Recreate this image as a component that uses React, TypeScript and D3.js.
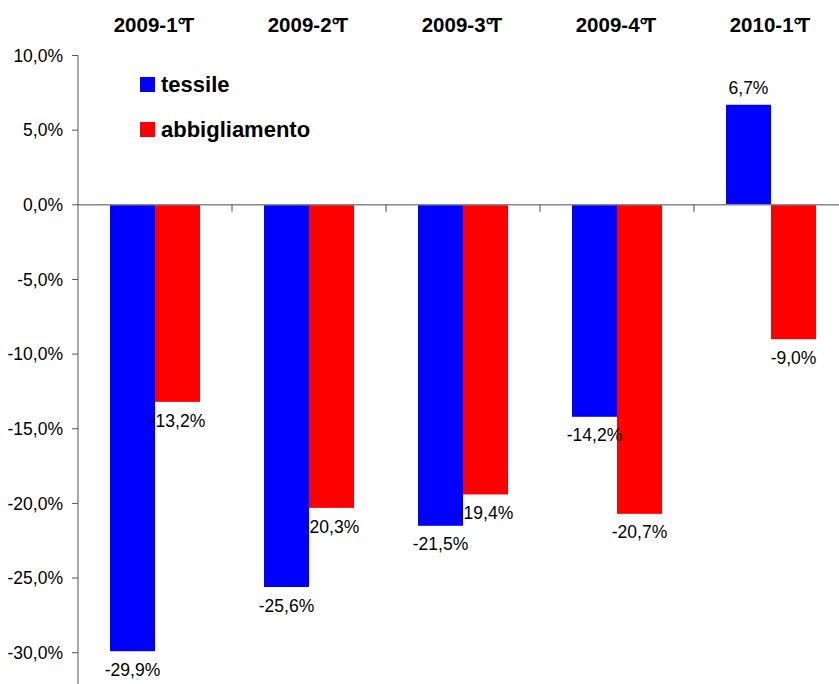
import React from "react";
import * as d3 from "d3";

const categories = ["2009-1°T", "2009-2°T", "2009-3°T", "2009-4°T", "2010-1°T"];
const seriesNames = ["tessile", "abbigliamento"];
const tessile = [-29.9, -25.6, -21.5, -14.2, 6.7];
const abbigliamento = [-13.2, -20.3, -19.4, -20.7, -9.0];
const seriesColors = ["#0000FF", "#FF0000"];
const yTicks = [10, 5, 0, -5, -10, -15, -20, -25, -30];

const W = 839;
const H = 684;

const fmt = (v: number) => v.toFixed(1).replace(".", ",") + "%";

export default function App() {
  const axisX = 78;
  const y = d3.scaleLinear().domain([-30, 10]).range([652.7, 55.5]);
  const x0 = d3
    .scaleBand<string>()
    .domain(categories)
    .range([axisX, axisX + 154 * categories.length])
    .paddingInner(0.4156)
    .paddingOuter(0.4156 / 2);
  const x1 = d3.scaleBand<string>().domain(seriesNames).range([0, x0.bandwidth()]);
  const series = [tessile, abbigliamento];
  const yBottom = H;
  const font = "'Liberation Sans', Arial, sans-serif";

  return (
    <svg
      width={W}
      height={H}
      style={{ position: "absolute", left: 0, top: 0, background: "#fff" }}
      fontFamily={font}
    >
      {/* bars */}
      {series.map((vals, si) =>
        vals.map((v, i) => {
          const bx = (x0(categories[i]) as number) + (x1(seriesNames[si]) as number);
          const y0 = y(0);
          const yv = y(v);
          return (
            <rect
              key={`b${si}-${i}`}
              x={bx}
              y={Math.min(y0, yv)}
              width={x1.bandwidth()}
              height={Math.abs(yv - y0)}
              fill={seriesColors[si]}
            />
          );
        })
      )}
      {/* zero line */}
      <line x1={axisX} x2={W} y1={y(0)} y2={y(0)} stroke="#888" strokeWidth={1.5} />
      {/* category ticks */}
      {categories.map((c, i) => {
        const tx = axisX + 154 * i;
        return i === 0 ? null : (
          <line key={`ct${i}`} x1={tx} x2={tx} y1={y(0)} y2={y(0) + 7} stroke="#444" strokeWidth={1} />
        );
      })}
      {/* y axis */}
      <line x1={axisX} x2={axisX} y1={y(10)} y2={yBottom} stroke="#555" strokeWidth={1} />
      {yTicks.map((t) => (
        <g key={`yt${t}`}>
          <line x1={axisX - 6} x2={axisX} y1={y(t)} y2={y(t)} stroke="#555" strokeWidth={1} />
          <text x={63} y={y(t)} dy="0.35em" textAnchor="end" fontSize={17.5} fill="#000">
            {fmt(t)}
          </text>
        </g>
      ))}
      {/* category labels at top */}
      {categories.map((c) => (
        <text
          key={`cl${c}`}
          x={(x0(c) as number) + x0.bandwidth() / 2 - 1}
          y={31.5}
          dx="0 0 0 0 0 0 0 -4"
          textAnchor="middle"
          fontSize={20.5}
          fontWeight="bold"
          fill="#000"
        >
          {c}
        </text>
      ))}
      {/* data labels */}
      {series.map((vals, si) =>
        vals.map((v, i) => {
          const cx = (x0(categories[i]) as number) + (x1(seriesNames[si]) as number) + x1.bandwidth() / 2;
          const ly = v >= 0 ? y(v) - 17 : y(v) + 18.5;
          return (
            <text
              key={`dl${si}-${i}`}
              x={cx}
              y={ly}
              dy="0.35em"
              textAnchor="middle"
              fontSize={17.5}
              fill="#000"
            >
              {fmt(v)}
            </text>
          );
        })
      )}
      {/* legend */}
      {seriesNames.map((s, i) => (
        <g key={`lg${s}`} transform={`translate(140, ${77 + i * 45})`}>
          <rect x={0} y={0} width={15} height={15} fill={seriesColors[i]} />
          <text x={21} y={14.5} fontSize={22} fontWeight="bold" fill="#000">
            {s}
          </text>
        </g>
      ))}
    </svg>
  );
}
